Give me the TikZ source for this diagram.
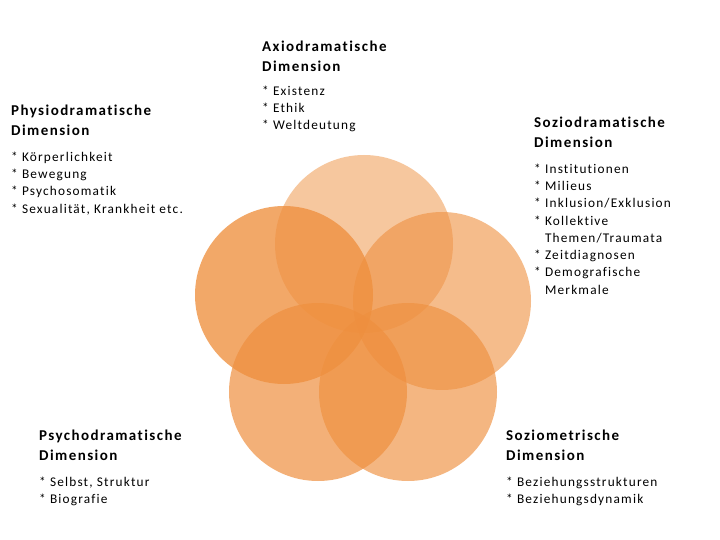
\documentclass[tikz,border=0pt]{standalone}
\usepackage{fontspec}
\setmainfont{Carlito}[LetterSpace=9, Ligatures={NoCommon},
  BoldFeatures={LetterSpace=9.5}]
\usetikzlibrary{positioning}

\definecolor{ring}{RGB}{238,143,62}

\begin{document}
\begin{tikzpicture}[x=1bp, y=-1bp,
 ringcirc/.style={circle, fill=ring, minimum size=178bp, inner sep=0pt},
 heading/.style={anchor=north west, inner sep=0pt, align=left,
   font=\fontsize{15bp}{19.5bp}\selectfont\bfseries},
 items/.style={anchor=north west, inner sep=0pt, align=left,
   font=\fontsize{13.3bp}{17.3bp}\selectfont}]

  \useasboundingbox (0,0) rectangle (720,540);

  % the five overlapping circles
  \foreach \n/\x/\y/\o in {axio/364/244/0.5, physio/284/295/0.78, sozio/442/301/0.6,
                            psycho/318/392/0.7, metrie/408/392/0.65} {
   \node[ringcirc, fill opacity=\o] (c\n) at (\x,\y) {};}

  % headings
  \node[heading] (axio) at (262,41) {Axiodramatische\\Dimension};
  \node[heading] (physio) at (11,105) {Physiodramatische\\Dimension};
  \node[heading] (sozio) at (534,117) {Soziodramatische\\Dimension};
  \node[heading] (psycho) at (39,430) {Psychodramatische\\Dimension};
  \node[heading] (metrie) at (506,430) {Soziometrische\\Dimension};

  % lists
  \node[items, below=14bp of axio.south west, anchor=north west] (axiolist)
   {* Existenz\\* Ethik\\* Weltdeutung};
  \node[items, below=16bp of physio.south west, anchor=north west] (physiolist)
   {* Körperlichkeit\\* Bewegung\\* Psychosomatik\\* Sexualität, Krankheit etc.};
  \node[items, below=16bp of sozio.south west, anchor=north west] (soziolist)
   {* Institutionen\\* Milieus\\* Inklusion/Exklusion\\* Kollektive\\
    \phantom{* }Themen/Traumata\\* Zeitdiagnosen\\* Demografische\\
    \phantom{* }Merkmale};
  \node[items, below=16bp of psycho.south west, anchor=north west] (psycholist)
   {* Selbst, Struktur\\* Biografie};
  \node[items, below=16bp of metrie.south west, anchor=north west] (metrielist)
   {* Beziehungsstrukturen\\* Beziehungsdynamik};
\end{tikzpicture}
\end{document}
